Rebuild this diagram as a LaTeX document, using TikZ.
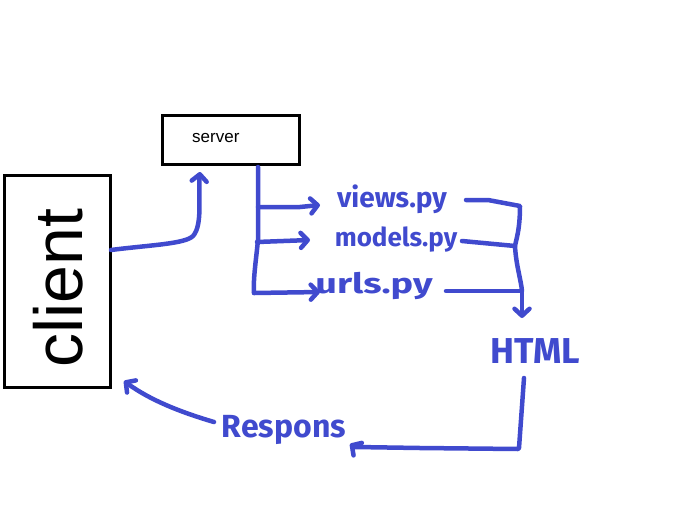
\documentclass[tikz,border=0pt]{standalone}
\usepackage{fontspec}
\setmainfont{Liberation Sans}
\newfontfamily\handfont{Fira Sans}
\usetikzlibrary{arrows.meta}
\definecolor{pen}{RGB}{64,74,206}
\tikzset{
  box/.style={draw=black, line width=2.2pt, inner sep=0pt},
  hand/.style={draw=pen, line width=4.5pt, line cap=round, line join=round},
  tip/.style={-{Straight Barb[length=7pt,width=15pt,line width=4.5pt,round]}},
  lbl/.style={text=pen, inner sep=0pt, anchor=center}
}
\begin{document}
\begin{tikzpicture}[x=1pt,y=-1pt]
\useasboundingbox (0,0) rectangle (696,525);
% boxes
\node[box, minimum width=137pt, minimum height=49pt] (server) at (231,140) {};
\node[font=\fontsize{17}{19}\selectfont, anchor=west, inner sep=0pt] (servertext) at (192,138) {server};
\node[box, minimum width=106pt, minimum height=212pt] (client) at (57.5,281.5) {};
\node[font=\fontsize{68}{74}\selectfont, rotate=90, inner sep=0pt] (clienttext) at (58,288) {client};
% labels
\node[lbl, font=\handfont\bfseries\fontsize{28}{30}\selectfont] (views) at (392,199) {views.py};
\node[lbl, font=\handfont\bfseries\fontsize{26}{28}\selectfont] (models) at (396,240) {models.py};
\node[lbl, font=\handfont\bfseries\fontsize{28}{30}\selectfont, xscale=1.35] (urls) at (374,286) {urls.py};
\node[lbl, font=\handfont\bfseries\fontsize{36}{38}\selectfont] (html) at (535,351) {HTML};
\node[lbl, font=\handfont\bfseries\fontsize{32}{34}\selectfont] (resp) at (284,430) {Respons};
% coordinates
\coordinate (c1) at (111,250);
\coordinate (s1) at (200,172);
\coordinate (s2) at (258,167);
\coordinate (b1) at (258,207);
\coordinate (b2) at (257,242);
\coordinate (b3) at (254,293);
\coordinate (v1) at (320,205);
\coordinate (m1) at (310,240);
\coordinate (u1) at (320,292);
\coordinate (ve) at (466,200);
\coordinate (me) at (462,241);
\coordinate (ue) at (446,291);
\coordinate (jr) at (520,206);
\coordinate (jm) at (515,246);
\coordinate (ju) at (522,291);
\coordinate (h1) at (522,318);
\coordinate (h2) at (524,378);
\coordinate (hc) at (518,449);
\coordinate (r1) at (350,444);
\coordinate (r2) at (214,422);
\coordinate (c2) at (124,381);
% client -> server
\draw[hand, tip] (c1) .. controls (150,245) and (185,244) .. (193,236) .. controls (203,225) and (198,195) .. (s1);
% server branches
\draw[hand] (s2) -- (258,240) .. controls (256,260) and (253,280) .. (b3);
\draw[hand, tip] (b3) -- (u1);
\draw[hand, tip] (b1) -- (300,207) -- (v1);
\draw[hand, tip] (b2) -- (m1);
% to HTML
\draw[hand] (ve) -- (488,200) -- (jr) .. controls (520,230) and (516,240) .. (jm) .. controls (516,265) and (521,280) .. (ju);
\draw[hand] (me) -- (jm);
\draw[hand, tip] (ue) -- (ju) -- (h1);
% HTML -> Respons
\draw[hand, tip] (h2) -- (519,448) -- (hc) -- (420,448) -- (355,447) .. controls (353,446) .. (r1);
% Respons -> client
\draw[hand, tip] (r2) .. controls (180,412) and (150,400) .. (c2);
\end{tikzpicture}
\end{document}
